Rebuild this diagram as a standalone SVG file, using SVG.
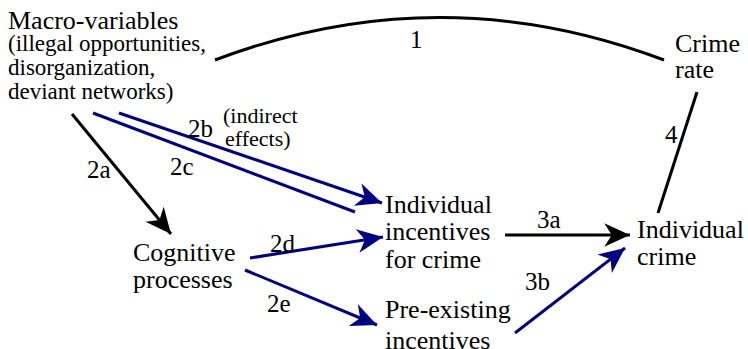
<svg xmlns="http://www.w3.org/2000/svg" width="748" height="349" viewBox="0 0 748 349">
<defs>
<marker id="ak" markerUnits="userSpaceOnUse" markerWidth="30" markerHeight="30" viewBox="-26 -13 28 26" refX="0" refY="0" orient="auto">
<path d="M0,0 L-24,-11 L-17,0 L-24,11 Z" fill="#000"/>
</marker>
<marker id="ab" markerUnits="userSpaceOnUse" markerWidth="30" markerHeight="30" viewBox="-26 -13 28 26" refX="0" refY="0" orient="auto">
<path d="M0,0 L-24,-11 L-17,0 L-24,11 Z" fill="#000080"/>
</marker>
</defs>
<rect width="748" height="349" fill="#fff"/>
<g id="connectors" fill="none" stroke-width="3">
<path stroke="#000" d="M215,60 Q440,-25 664,60"/>
<line stroke="#000" x1="697" y1="92" x2="658" y2="213"/>
<line stroke="#000" x1="72" y1="114" x2="171" y2="234" marker-end="url(#ak)"/>
<line stroke="#000080" x1="119" y1="113" x2="382" y2="203" marker-end="url(#ab)"/>
<line stroke="#000080" x1="93" y1="113" x2="355" y2="212"/>
<line stroke="#000080" x1="250" y1="258" x2="383" y2="237" marker-end="url(#ab)"/>
<line stroke="#000080" x1="245" y1="270" x2="377" y2="325" marker-end="url(#ab)"/>
<line stroke="#000" x1="505" y1="235" x2="630" y2="235" marker-end="url(#ak)"/>
<line stroke="#000080" x1="515" y1="333" x2="625" y2="248" marker-end="url(#ab)"/>
</g>
<g id="labels" fill="#000">
<text style="font-family:'Liberation Serif',serif;font-size:25px" x="410" y="48">1</text>
<text style="font-family:'Liberation Serif',serif;font-size:25px" x="87" y="178">2a</text>
<text style="font-family:'Liberation Serif',serif;font-size:25px" x="188" y="137">2b</text>
<text style="font-family:'Liberation Serif',serif;font-size:22px" x="223" y="123">(indirect</text>
<text style="font-family:'Liberation Serif',serif;font-size:22px" x="225" y="146">effects)</text>
<text style="font-family:'Liberation Serif',serif;font-size:25px" x="170" y="175">2c</text>
<text style="font-family:'Liberation Serif',serif;font-size:25px" x="270" y="252">2d</text>
<text style="font-family:'Liberation Serif',serif;font-size:25px" x="267" y="312">2e</text>
<text style="font-family:'Liberation Serif',serif;font-size:25px" x="537" y="228">3a</text>
<text style="font-family:'Liberation Serif',serif;font-size:25px" x="525" y="290">3b</text>
<text style="font-family:'Liberation Serif',serif;font-size:25px" x="665" y="143">4</text>
</g>
<g id="macro">
<text style="font-family:'Liberation Serif',serif;font-size:26px" x="8" y="29">Macro-variables</text>
<text style="font-family:'Liberation Serif',serif;font-size:23px" x="8" y="51">(illegal opportunities,</text>
<text style="font-family:'Liberation Serif',serif;font-size:23px" x="8" y="75">disorganization,</text>
<text style="font-family:'Liberation Serif',serif;font-size:23px" x="8" y="99">deviant networks)</text>
</g>
<g id="crime-rate">
<text style="font-family:'Liberation Serif',serif;font-size:26px" x="675" y="52">Crime</text>
<text style="font-family:'Liberation Serif',serif;font-size:26px" x="675" y="78">rate</text>
</g>
<g id="cognitive">
<text style="font-family:'Liberation Serif',serif;font-size:26px" x="133" y="261">Cognitive</text>
<text style="font-family:'Liberation Serif',serif;font-size:26px" x="133" y="288">processes</text>
</g>
<g id="incentives">
<text style="font-family:'Liberation Serif',serif;font-size:26px" x="385" y="213">Individual</text>
<text style="font-family:'Liberation Serif',serif;font-size:26px" x="385" y="240">incentives</text>
<text style="font-family:'Liberation Serif',serif;font-size:26px" x="385" y="268">for crime</text>
</g>
<g id="preexisting">
<text style="font-family:'Liberation Serif',serif;font-size:26px" x="385" y="318">Pre-existing</text>
<text style="font-family:'Liberation Serif',serif;font-size:26px" x="385" y="349">incentives</text>
</g>
<g id="individual-crime">
<text style="font-family:'Liberation Serif',serif;font-size:26px" x="637" y="238">Individual</text>
<text style="font-family:'Liberation Serif',serif;font-size:26px" x="637" y="265">crime</text>
</g>
</svg>
